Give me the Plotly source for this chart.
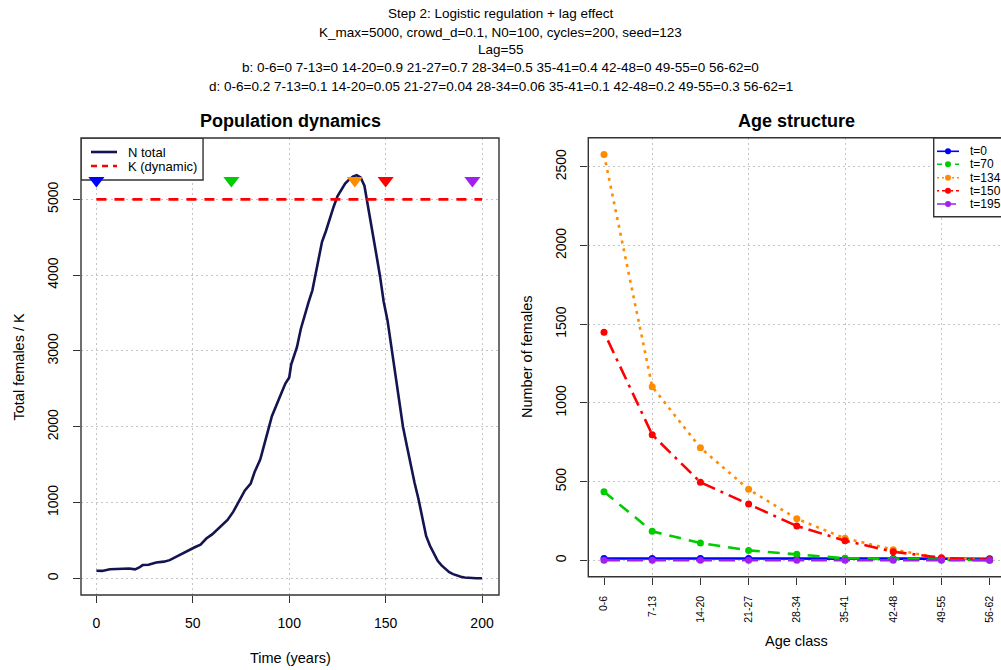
import plotly.graph_objects as go

W, H = 1001, 670

# ---------------- data ----------------
title_lines = [
    "Step 2: Logistic regulation + lag effect",
    "K_max=5000, crowd_d=0.1, N0=100, cycles=200, seed=123",
    "Lag=55",
    "b: 0-6=0 7-13=0 14-20=0.9 21-27=0.7 28-34=0.5 35-41=0.4 42-48=0 49-55=0 56-62=0",
    "d: 0-6=0.2 7-13=0.1 14-20=0.05 21-27=0.04 28-34=0.06 35-41=0.1 42-48=0.2 49-55=0.3 56-62=1",
]

years = [0, 3, 7, 10, 14, 17, 20, 22, 24, 27, 31, 35, 38, 41, 44, 48, 51, 54, 57, 60,
         62, 65, 68, 71, 73, 75, 77, 80, 82, 85, 87, 89, 91, 94, 96, 98, 100, 101, 104,
         106, 108, 110, 112, 114, 116, 117, 119, 121, 123, 125, 127, 129, 131, 133, 135,
         137, 139, 141, 143, 145, 147, 149, 151, 153, 155, 157, 159, 161, 163, 165, 167,
         169, 171, 173, 175, 177, 179, 181, 183, 185, 187, 189, 191, 193, 195, 197, 200]
n_total = [100, 98, 120, 125, 135, 130, 118, 140, 175, 180, 210, 220, 240, 280, 320, 380,
           410, 445, 525, 580, 630, 700, 770, 880, 980, 1060, 1160, 1250, 1400, 1570, 1780,
           1950, 2140, 2340, 2450, 2570, 2650, 2820, 3050, 3290, 3480, 3640, 3800, 4050,
           4300, 4440, 4580, 4750, 4900, 5040, 5120, 5210, 5260, 5300, 5320, 5290, 5180,
           4900, 4600, 4300, 4000, 3650, 3400, 3050, 2650, 2300, 2000, 1750, 1480, 1260,
           1050, 800, 560, 430, 320, 230, 170, 120, 80, 55, 35, 20, 10, 5, 3, 2, 1]
k_dynamic = [5000] * len(years)

snapshot_times = [0, 70, 134, 150, 195]
snapshot_marker_level = 5250
snapshot_colors = ["#0000FF", "#00CD00", "#FF8C00", "#FF0000", "#A020F0"]

age_classes = ["0-6", "7-13", "14-20", "21-27", "28-34", "35-41", "42-48", "49-55", "56-62"]
series_names = ["t=0", "t=70", "t=134", "t=150", "t=195"]
age_t0 = [12, 11, 11, 12, 11, 11, 11, 11, 10]
age_t70 = [436, 184, 110, 63, 38, 13, 8, 4, 1]
age_t134 = [2579, 1103, 715, 451, 264, 140, 68, 14, 2]
age_t150 = [1449, 798, 496, 358, 218, 125, 55, 16, 3]
age_t195 = [1, 1, 0, 0, 0, 0, 0, 0, 0]
age_series = [age_t0, age_t70, age_t134, age_t150, age_t195]
age_dashes = ["solid", "12px,8px", "3px,5px", "3px,6px,14px,6px", "16px,7px"]

# ---------------- helpers (layout only) ----------------
def px(x):
    return x / W


def py(y):
    return 1 - y / H


FONT = "Liberation Sans, Arial, sans-serif"
NAVY = "#141450"
GRID = "#c4c4c4"

fig = go.Figure()

# Left panel
fig.add_trace(go.Scatter(x=years, y=n_total, mode="lines", name="N total",
                         line=dict(color=NAVY, width=2.6), xaxis="x", yaxis="y",
                         showlegend=False))
fig.add_trace(go.Scatter(x=years, y=k_dynamic, mode="lines", name="K (dynamic)",
                         line=dict(color="#FF0000", width=2.6, dash="10px,8px"),
                         xaxis="x", yaxis="y", showlegend=False))
fig.add_trace(go.Scatter(x=snapshot_times, y=[snapshot_marker_level] * len(snapshot_times),
                         mode="markers", marker=dict(symbol="triangle-down", size=14,
                                                     color=snapshot_colors, line=dict(width=0)),
                         xaxis="x", yaxis="y", showlegend=False))

# Right panel
x_idx = list(range(1, len(age_classes) + 1))
for name, vals, col, dsh in zip(series_names, age_series, snapshot_colors, age_dashes):
    fig.add_trace(go.Scatter(x=x_idx, y=vals, mode="lines+markers", name=name,
                             line=dict(color=col, width=2.6, dash=dsh),
                             marker=dict(size=7, color=col),
                             xaxis="x2", yaxis="y2", showlegend=False))

tickfont = dict(family=FONT, size=14, color="black")

common = dict(showline=False, zeroline=False, ticks="outside", ticklen=7, tickwidth=1,
              tickcolor="#333", tickfont=tickfont, griddash="2px,3px", gridcolor=GRID,
              gridwidth=1)

fig.update_layout(
    width=W, height=H,
    margin=dict(l=0, r=0, t=0, b=0),
    paper_bgcolor="white", plot_bgcolor="white",
    showlegend=False,
    xaxis=dict(domain=[px(81), px(499)], range=[-8, 208.8], tickvals=[0, 50, 100, 150, 200],
               showgrid=True, anchor="y", ticklabelstandoff=8, **common),
    yaxis=dict(domain=[py(595), py(138)], range=[-220, 5810],
               tickvals=[0, 1000, 2000, 3000, 4000, 5000], tickangle=-90,
               showgrid=True, anchor="x", ticklabelstandoff=9, **common),
    xaxis2=dict(domain=[px(588.3), 1.0], range=[0.674, 9.236], tickvals=x_idx,
                ticktext=age_classes, tickangle=-90, showgrid=False, anchor="y2",
                ticklabelstandoff=7,
                minor=dict(tickvals=[2, 4, 6, 8], showgrid=True, griddash="2px,3px",
                           gridcolor=GRID, gridwidth=1, ticks=""),
                **{k: v for k, v in common.items() if k not in ("tickfont",)},
                tickfont=dict(family=FONT, size=10.5, color="black")),
    yaxis2=dict(domain=[py(576.7), py(137.7)], range=[-104, 2685],
                tickvals=[0, 500, 1000, 1500, 2000, 2500], tickangle=-90,
                showgrid=True, anchor="x2", ticklabelstandoff=9, **common),
)

shapes = []
# plot boxes
shapes.append(dict(type="rect", xref="paper", yref="paper", x0=px(81), x1=px(499),
                   y0=py(595), y1=py(138), line=dict(color="#333", width=1.4), layer="above"))
shapes.append(dict(type="rect", xref="paper", yref="paper", x0=px(588.3), x1=px(1012),
                   y0=py(576.7), y1=py(137.7), line=dict(color="#333", width=1.4), layer="above"))

annotations = []
# Main title lines
for i, line in enumerate(title_lines):
    annotations.append(dict(text=line, x=0.5, y=py(14 + 18 * i), xref="paper", yref="paper",
                            showarrow=False, xanchor="center", yanchor="middle",
                            font=dict(family=FONT, size=13.5, color="black")))
# panel titles
annotations.append(dict(text="<b>Population dynamics</b>", x=px(290), y=py(121), xref="paper",
                        yref="paper", showarrow=False, xanchor="center", yanchor="middle",
                        font=dict(family=FONT, size=18, color="black")))
annotations.append(dict(text="<b>Age structure</b>", x=px(796.7), y=py(121), xref="paper",
                        yref="paper", showarrow=False, xanchor="center", yanchor="middle",
                        font=dict(family=FONT, size=18, color="black")))
# axis titles
axfont = dict(family=FONT, size=14.5, color="black")
annotations.append(dict(text="Time (years)", x=px(290), y=py(658), xref="paper", yref="paper",
                        showarrow=False, xanchor="center", yanchor="middle", font=axfont))
annotations.append(dict(text="Total females / K", x=px(18), y=py(366.5), xref="paper",
                        yref="paper", showarrow=False, xanchor="center", yanchor="middle",
                        textangle=-90, font=axfont))
annotations.append(dict(text="Age class", x=px(796.7), y=py(641), xref="paper", yref="paper",
                        showarrow=False, xanchor="center", yanchor="middle", font=axfont))
annotations.append(dict(text="Number of females", x=px(527), y=py(357), xref="paper",
                        yref="paper", showarrow=False, xanchor="center", yanchor="middle",
                        textangle=-90, font=axfont))

# Left legend (manual) - drawn between grid and traces so the triangles stay visible
shapes.append(dict(type="rect", xref="x", yref="y", x0=-8, x1=55.3,
                   y0=5255, y1=5810, line=dict(color="#333", width=1.4),
                   fillcolor="white", layer="between"))
left_leg = [("N total", NAVY, "solid", 152), ("K (dynamic)", "#FF0000", "6px,5px", 166)]
for label, col, dsh, yy in left_leg:
    shapes.append(dict(type="line", xref="paper", yref="paper", x0=px(91), x1=px(117),
                       y0=py(yy), y1=py(yy), line=dict(color=col, width=2.6, dash=dsh),
                       layer="above"))
    annotations.append(dict(text=label, x=px(126), y=py(yy), xref="paper", yref="paper",
                            showarrow=False, xanchor="left", yanchor="middle",
                            font=dict(family=FONT, size=13, color="black")))

# Right legend (manual)
shapes.append(dict(type="rect", xref="paper", yref="paper", x0=px(933.7), x1=px(1012),
                   y0=py(216.7), y1=py(138), line=dict(color="#333", width=1.4),
                   fillcolor="white", layer="above"))
leg_dash = ["solid", "5px,4px", "2px,3px", "2px,3px,6px,3px", "8px,3px"]
leg_y = [151.3, 164.3, 177.7, 190.7, 204]
for name, col, dsh, yy in zip(series_names, snapshot_colors, leg_dash, leg_y):
    shapes.append(dict(type="line", xref="paper", yref="paper", x0=px(937), x1=px(959),
                       y0=py(yy), y1=py(yy), line=dict(color=col, width=1.6, dash=dsh),
                       layer="above"))
    shapes.append(dict(type="circle", xref="paper", yref="paper", x0=px(945), x1=px(951),
                       y0=py(yy + 3), y1=py(yy - 3), line=dict(width=0), fillcolor=col,
                       layer="above"))
    annotations.append(dict(text=name, x=px(968), y=py(yy), xref="paper", yref="paper",
                            showarrow=False, xanchor="left", yanchor="middle",
                            font=dict(family=FONT, size=12, color="black")))

fig.update_layout(shapes=shapes, annotations=annotations)

fig.write_html("out.html")
